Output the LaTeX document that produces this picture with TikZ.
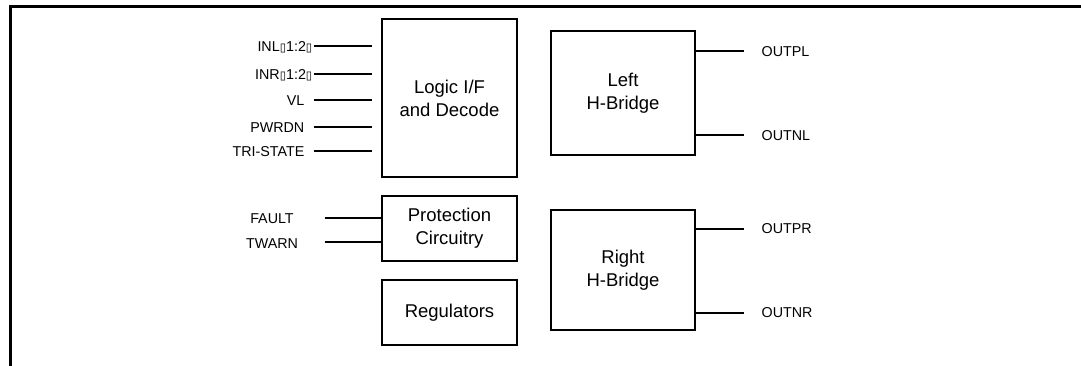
\documentclass[tikz,border=0pt]{standalone}
\usepackage{fontspec}
\setmainfont{Liberation Sans}
\newfontfamily\symfont{DejaVu Sans}
\newcommand{\mbx}{{\symfont\fontsize{11.5}{11.5}\selectfont\raisebox{0.2pt}{▯}}}
\begin{document}
\begin{tikzpicture}[x=1pt,y=-1pt,
  blk/.style={draw, line width=1.3pt, rectangle, inner sep=0pt, align=center,
    font=\fontsize{18.5}{23}\selectfont},
  lbl/.style={font=\fontsize{14.3}{16}\selectfont, inner sep=0pt},
  wire/.style={line width=1.3pt},
  frame/.style={line width=2.2pt}]
\useasboundingbox (0,0) rectangle (1081,365);
% frame
\coordinate (fbl) at (10.5,366);
\coordinate (ftl) at (10.5,6.5);
\coordinate (ftr) at (1082,6.5);
\draw[frame] (fbl) -- (ftl) -- (ftr);
% blocks
\node[blk, minimum width=135pt, minimum height=158pt] (logic) at (449.5,98) {Logic I/F\\and Decode};
\node[blk, minimum width=144pt, minimum height=124pt] (lhb) at (623,93) {Left\\H-Bridge};
\node[blk, minimum width=135pt, minimum height=65pt] (prot) at (449.5,228.5) {Protection\\Circuitry};
\node[blk, minimum width=135pt, minimum height=65pt] (reg) at (449.5,312.5) {Regulators};
\node[blk, minimum width=144pt, minimum height=120pt] (rhb) at (623,270) {Right\\H-Bridge};
% input wires (not touching logic block)
\foreach \n/\y in {inl/46, inr/74, vl/100, pwr/127, tri/151}{
  \coordinate (\n A) at (314,\y);
  \coordinate (\n B) at (372,\y);
  \draw[wire] (\n A) -- (\n B);
}
\node[lbl, anchor=east] (tinl) at (312.5,47) {INL\mbx1:2\mbx};
\node[lbl, anchor=east] (tinr) at (312.5,75) {INR\mbx1:2\mbx};
\node[lbl, anchor=east] (tvl) at (304.5,101) {VL};
\node[lbl, anchor=east] (tpwr) at (304.5,128) {PWRDN};
\node[lbl, anchor=east] (ttri) at (304.5,152) {TRI-STATE};
% protection inputs
\coordinate (faultA) at (324.5,218);
\coordinate (twarnA) at (324.5,242);
\draw[wire] (faultA) -- (faultA -| prot.west);
\draw[wire] (twarnA) -- (twarnA -| prot.west);
\node[lbl] (tfault) at (272,219) {FAULT};
\node[lbl] (ttwarn) at (272,243.5) {TWARN};
% outputs
\coordinate (oplB) at (743.5,51);
\coordinate (onlB) at (743.5,135);
\coordinate (oprB) at (743.5,229);
\coordinate (onrB) at (743.5,313);
\draw[wire] (oplB -| lhb.east) -- (oplB);
\draw[wire] (onlB -| lhb.east) -- (onlB);
\draw[wire] (oprB -| rhb.east) -- (oprB);
\draw[wire] (onrB -| rhb.east) -- (onrB);
\node[lbl, anchor=west] (topl) at (761.5,52) {OUTPL};
\node[lbl, anchor=west] (tonl) at (761.5,136) {OUTNL};
\node[lbl, anchor=west] (topr) at (761.5,229) {OUTPR};
\node[lbl, anchor=west] (tonr) at (761.5,313) {OUTNR};
\end{tikzpicture}
\end{document}
